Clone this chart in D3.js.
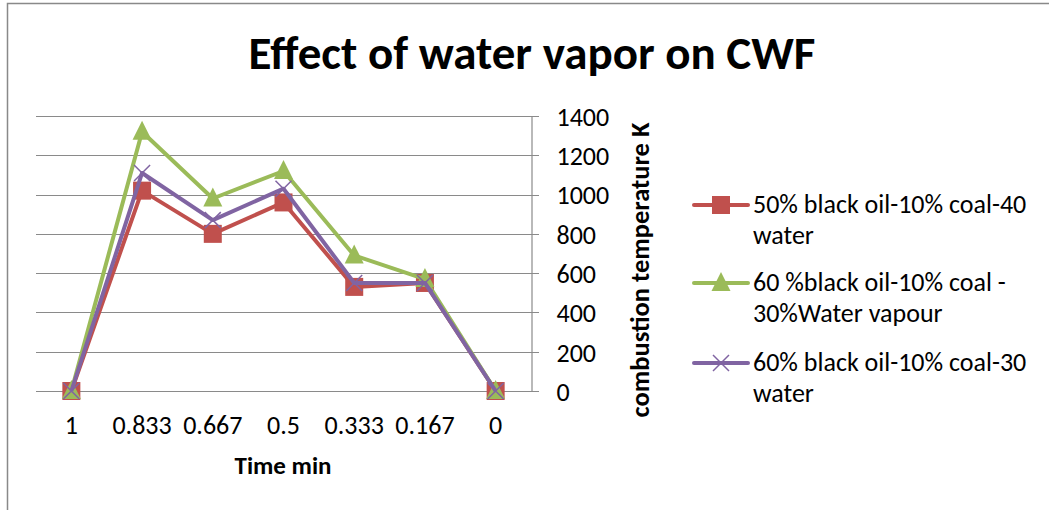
<!DOCTYPE html>
<meta charset="utf-8">
<style>
  body { margin: 0; background: #fff; }
  text { font-family: Carlito, Calibri, Lato, sans-serif; fill: #000; }
</style>
<body>
<script src="https://d3js.org/d3.v7.min.js"></script>
<script>

// categories along the x axis (time, min)
var times = ["1", "0.833", "0.667", "0.5", "0.333", "0.167", "0"];
// y axis ticks
var yTicks = [0, 200, 400, 600, 800, 1000, 1200, 1400];

// series values (combustion temperature K)
var red50 = [0, 1020, 800, 960, 530, 550, 0];
var green60vap = [0, 1320, 980, 1120, 690, 570, 0];
var purple60 = [0, 1110, 870, 1030, 550, 550, 0];

var seriesNames = [
  ["50% black oil-10% coal-40", "water"],
  ["60 %black oil-10% coal -", "30%Water vapour"],
  ["60% black oil-10% coal-30", "water"]
];

var series = [
  {name: seriesNames[0], values: red50, color: "#C0504D", marker: "square"},
  {name: seriesNames[1], values: green60vap, color: "#9BBB59", marker: "triangle"},
  {name: seriesNames[2], values: purple60, color: "#8064A2", marker: "cross"}
];

var W = 1049, H = 510;
var svg = d3.select("body").append("svg")
    .attr("width", W)
    .attr("height", H);

// chart border
svg.append("rect")
    .attr("x", 7.5).attr("y", 3.5)
    .attr("width", W + 20).attr("height", H + 20)
    .attr("fill", "none")
    .attr("stroke", "#898989")
    .attr("stroke-width", 1.5);

// title
svg.append("text")
    .attr("x", 532).attr("y", 69)
    .attr("text-anchor", "middle")
    .style("font-size", "47px")
    .style("font-weight", "bold")
    .text("Effect of water vapor on CWF");

var x = d3.scaleBand().domain(times).range([36, 531]).padding(0);
var y = d3.scaleLinear().domain([0, 1400]).range([391, 116]);

// grid lines
svg.append("g").selectAll("line")
    .data(yTicks)
  .enter().append("line")
    .attr("x1", 36).attr("x2", 539)
    .attr("y1", function(d) { return Math.round(y(d)) + 0.5; })
    .attr("y2", function(d) { return Math.round(y(d)) + 0.5; })
    .attr("stroke", "#8a8a8a")
    .attr("stroke-width", 1.2);

// right y axis
var yAxis = svg.append("g")
    .attr("transform", "translate(531.5,0)")
    .call(d3.axisRight(y).tickValues(yTicks).tickFormat(d3.format("d"))
      .tickSize(0).tickPadding(25).tickSizeOuter(0));
yAxis.select(".domain").attr("stroke", "#8a8a8a").attr("stroke-width", 1.2);
yAxis.selectAll("text")
    .style("font-size", "26px")
    .attr("dy", "0.36em")
    .attr("text-anchor", "start");

// x labels
svg.append("g").selectAll("text")
    .data(times)
  .enter().append("text")
    .attr("x", function(d) { return x(d) + x.bandwidth() / 2; })
    .attr("y", 434)
    .attr("text-anchor", "middle")
    .style("font-size", "26px")
    .text(function(d) { return d; });

// axis titles
svg.append("text")
    .attr("x", 283).attr("y", 474)
    .attr("text-anchor", "middle")
    .style("font-size", "25px")
    .style("font-weight", "bold")
    .text("Time min");

svg.append("text")
    .attr("transform", "translate(649,270) rotate(-90)")
    .attr("text-anchor", "middle")
    .style("font-size", "26.5px")
    .style("font-weight", "bold")
    .text("combustion temperature K");

function drawMarker(g, type, color, cx, cy) {
  if (type === "square") {
    g.append("rect")
        .attr("x", cx - 9).attr("y", cy - 9)
        .attr("width", 18).attr("height", 18)
        .attr("fill", color);
  } else if (type === "triangle") {
    g.append("path")
        .attr("d", "M" + cx + "," + (cy - 11) + "L" + (cx + 9.5) + "," + (cy + 8) + "L" + (cx - 9.5) + "," + (cy + 8) + "Z")
        .attr("fill", color);
  } else {
    g.append("path")
        .attr("d", "M" + (cx - 8) + "," + (cy - 8) + "L" + (cx + 8) + "," + (cy + 8) + "M" + (cx + 8) + "," + (cy - 8) + "L" + (cx - 8) + "," + (cy + 8))
        .attr("stroke", color)
        .attr("stroke-width", 1.5)
        .attr("fill", "none");
  }
}

var line = d3.line()
    .x(function(d, i) { return x(times[i]) + x.bandwidth() / 2; })
    .y(function(d) { return y(d); });

series.forEach(function(s) {
  var g = svg.append("g");
  g.append("path")
      .datum(s.values)
      .attr("d", line)
      .attr("fill", "none")
      .attr("stroke", s.color)
      .attr("stroke-width", 4)
      .attr("stroke-linejoin", "round");
  s.values.forEach(function(v, i) {
    drawMarker(g, s.marker, s.color, x(times[i]) + x.bandwidth() / 2, y(v));
  });
});

// legend
var legendY = [205, 283, 363];
series.forEach(function(s, i) {
  var g = svg.append("g");
  var ly = legendY[i];
  g.append("line")
      .attr("x1", 694).attr("x2", 748)
      .attr("y1", ly).attr("y2", ly)
      .attr("stroke", s.color)
      .attr("stroke-width", 4)
      .attr("stroke-linecap", "round");
  drawMarker(g, s.marker, s.color, 721, ly);
  s.name.forEach(function(t, j) {
    g.append("text")
        .attr("x", 753)
        .attr("y", ly + 8 + j * 31)
        .style("font-size", "26px")
        .text(t);
  });
});

</script>
</body>
